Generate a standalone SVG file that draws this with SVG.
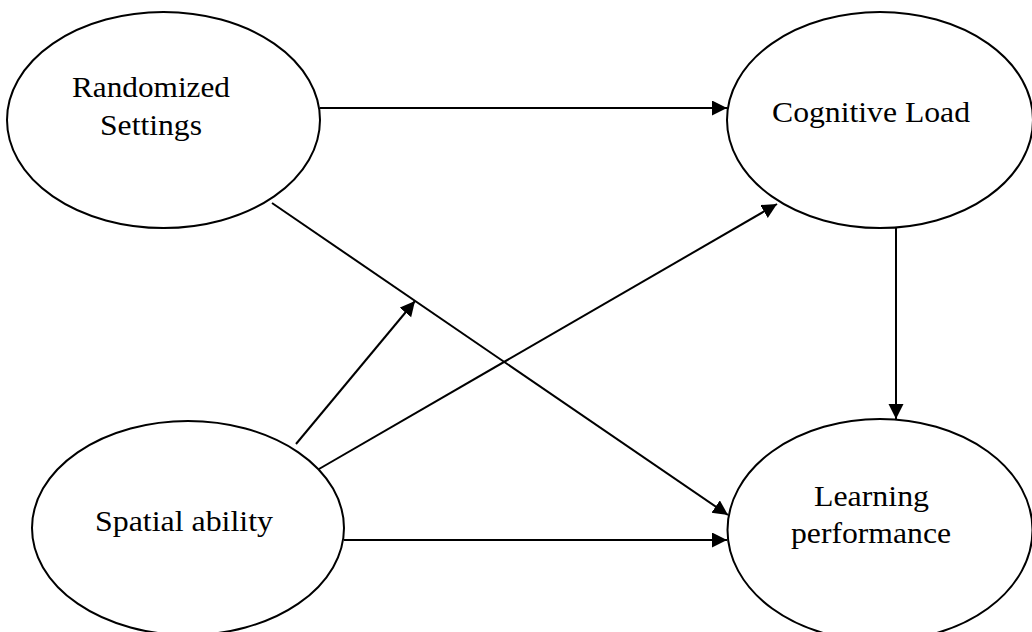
<svg xmlns="http://www.w3.org/2000/svg" width="1032" height="632" viewBox="0 0 1032 632">
<style>
.node{fill:#fff;stroke:#000;stroke-width:2}
.lbl{font-family:"Liberation Serif","Times New Roman",serif;font-size:29px;fill:#000}
.edge{stroke:#000;stroke-width:2;fill:none;marker-end:url(#ah)}
</style>
<defs>
<marker id="ah" markerUnits="userSpaceOnUse" markerWidth="16" markerHeight="16" refX="15" refY="7.5" orient="auto">
<path d="M0,0 L15,7.5 L0,15 Z" fill="#000"/>
</marker>
</defs>
<rect width="1032" height="632" fill="#fff"/>
<g id="randomized">
<ellipse class="node" cx="163.5" cy="120" rx="156.5" ry="108"/>
<text class="lbl" x="72" y="97" textLength="158" lengthAdjust="spacingAndGlyphs">Randomized</text>
<text class="lbl" x="100" y="135" textLength="102" lengthAdjust="spacingAndGlyphs">Settings</text>
</g>
<g id="cognitive">
<ellipse class="node" cx="880" cy="120" rx="153" ry="108"/>
<text class="lbl" x="772" y="122" textLength="198" lengthAdjust="spacingAndGlyphs">Cognitive Load</text>
</g>
<g id="spatial">
<ellipse class="node" cx="188" cy="528" rx="156" ry="107"/>
<text class="lbl" x="95" y="531" textLength="178" lengthAdjust="spacingAndGlyphs">Spatial ability</text>
</g>
<g id="learning">
<ellipse class="node" cx="880" cy="530" rx="152.5" ry="111"/>
<text class="lbl" x="814" y="506" textLength="115" lengthAdjust="spacingAndGlyphs">Learning</text>
<text class="lbl" x="791" y="543" textLength="160" lengthAdjust="spacingAndGlyphs">performance</text>
</g>
<g id="connectors">
<line class="edge" x1="320" y1="108" x2="727" y2="108"/>
<line class="edge" x1="272" y1="203" x2="728" y2="515"/>
<line class="edge" x1="896" y1="228" x2="896" y2="419"/>
<line class="edge" x1="296" y1="444" x2="415" y2="301"/>
<line class="edge" x1="319" y1="469" x2="777" y2="204"/>
<line class="edge" x1="344" y1="540" x2="727" y2="540"/>
</g>
</svg>
